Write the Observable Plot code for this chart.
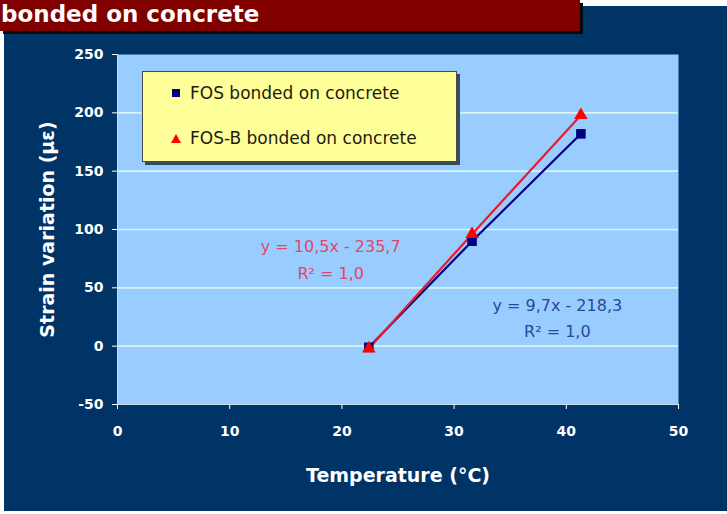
<!DOCTYPE html>
<html>
<head>
<meta charset="utf-8">
<script src="https://cdn.jsdelivr.net/npm/d3@7"></script>
<script src="https://cdn.jsdelivr.net/npm/@observablehq/plot@0.6"></script>
<style>
  html, body { margin: 0; padding: 0; background: #ffffff; }
  #wrap { position: relative; width: 727px; height: 514px; overflow: hidden; background: #ffffff; font-family: "DejaVu Sans", sans-serif; }
  #panel { position: absolute; left: 4px; top: 6px; width: 723px; height: 505px; background: #003366; }
  #chart { position: absolute; left: 0; top: 0; }
  #title { position: absolute; left: 0; top: 0; width: 580px; height: 31px; background: #800000; box-shadow: 3px 3px 0 #0a0a0a; overflow: hidden; }
  #title span { position: absolute; left: 1px; top: 2px; font: bold 23px/24px "DejaVu Sans", sans-serif; color: #ffffff; white-space: nowrap; }
  #legend { position: absolute; left: 142px; top: 71px; width: 313px; height: 89px; background: #FFFF99; border: 1px solid #4a4a4a; box-shadow: 3px 3px 0 #3a4a5a; }
  .item { position: absolute; left: 0; height: 20px; display: flex; align-items: center; font: 17px "DejaVu Sans", sans-serif; color: #1c1c10; white-space: nowrap; }
  .sq { display: inline-block; width: 8px; height: 8px; background: #000080; margin-left: 29px; margin-right: 10px; }
  .tri { display: inline-block; width: 0; height: 0; border-left: 5px solid transparent; border-right: 5px solid transparent; border-bottom: 9px solid #ff0000; margin-left: 28px; margin-right: 9px; }
</style>
</head>
<body>
<div id="wrap">
  <div id="panel"></div>
  <div id="chart"></div>
  <div id="title"><span id="titleText"></span></div>
  <div id="legend"></div>
</div>
<script>
// ---- data ----
const titleText = "bonded on concrete";
const seriesNames = ["FOS bonded on concrete", "FOS-B bonded on concrete"];
const temperature = [22.4, 31.6, 41.3];
const fosStrain = [-1, 90, 182];
const fosBStrain = [-2, 96, 198];
const xTicks = [0, 10, 20, 30, 40, 50];
const yTicks = [-50, 0, 50, 100, 150, 200, 250];
const gridTicks = [0, 50, 100, 150, 200];
const xLabel = "Temperature (°C)";
const yLabel = "Strain variation (με)";
const equations = ["y = 10,5x - 235,7\nR² = 1,0", "y = 9,7x - 218,3\nR² = 1,0"];
const eqTemp = [19.0, 39.2];
const eqStrain = [76.4, 26.3];
const seriesColors = ["#000080", "#ff0000"];
const lineColors = ["#000080", "#ee1a2a"];
const eqColors = ["#e04868", "#29489a"];

// ---- build tables ----
const fos = temperature.map((t, i) => ({t, s: fosStrain[i]}));
const fosB = temperature.map((t, i) => ({t, s: fosBStrain[i]}));
const eqs = equations.map((e, i) => ({e, t: eqTemp[i], s: eqStrain[i], c: eqColors[i]}));

document.getElementById("titleText").textContent = titleText;

const chart = Plot.plot({
  width: 727,
  height: 514,
  marginLeft: 117,
  marginRight: 49,
  marginTop: 54,
  marginBottom: 110,
  style: {background: "transparent", color: "#ffffff", fontFamily: "DejaVu Sans, sans-serif", overflow: "visible"},
  x: {domain: [0, 50]},
  y: {domain: [-50, 250]},
  marks: [
    Plot.frame({fill: "#99CCFF", stroke: null}),
    Plot.gridY(gridTicks, {stroke: "#d8f4f2", strokeOpacity: 1, strokeWidth: 1.6}),
    Plot.ruleX([0], {stroke: "#c4dff0", strokeWidth: 1}),
    Plot.ruleY([-50], {stroke: "#c4dff0", strokeWidth: 1}),
    Plot.axisY(yTicks, {tickSize: 5, tickPadding: 9, fontSize: 14, fontWeight: "bold", label: null, tickFormat: d => String(d)}),
    Plot.axisX(xTicks, {tickSize: 5, tickPadding: 17, fontSize: 14, fontWeight: "bold", label: null, tickFormat: d => String(d)}),
    Plot.text([xLabel], {frameAnchor: "bottom", lineAnchor: "middle", textAnchor: "middle", dy: 71, fontSize: 19, fontWeight: "bold", fill: "#ffffff"}),
    Plot.text([yLabel], {frameAnchor: "left", textAnchor: "middle", lineAnchor: "middle", dx: -70, rotate: -90, fontSize: 19, fontWeight: "bold", fill: "#ffffff"}),
    Plot.line(fos, {x: "t", y: "s", stroke: lineColors[0], strokeWidth: 2.2}),
    Plot.line(fosB, {x: "t", y: "s", stroke: lineColors[1], strokeWidth: 2.2}),
    Plot.dot(fos, {x: "t", y: "s", symbol: "square", r: 5.4, fill: seriesColors[0], stroke: null}),
    Plot.dot(fosB, {x: "t", y: "s", symbol: "triangle", r: 5, fill: seriesColors[1], stroke: null}),
    Plot.text(eqs, {x: "t", y: "s", text: "e", fill: "c", fontSize: 16, lineHeight: 1.65})
  ]
});
document.getElementById("chart").appendChild(chart);

// legend
const legend = document.getElementById("legend");
seriesNames.forEach((name, i) => {
  const row = document.createElement("div");
  row.className = "item";
  row.style.top = (i === 0 ? 11 : 56) + "px";
  const sym = document.createElement("span");
  sym.className = i === 0 ? "sq" : "tri";
  row.appendChild(sym);
  const label = document.createElement("span");
  label.textContent = name;
  row.appendChild(label);
  legend.appendChild(row);
});
</script>
</body>
</html>
